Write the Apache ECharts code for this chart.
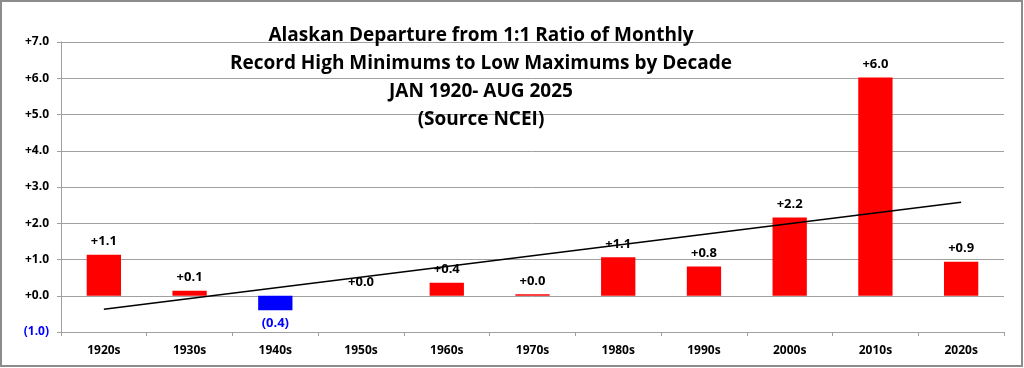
<!DOCTYPE html>
<html>
<head>
<meta charset="utf-8">
<script src="https://cdn.jsdelivr.net/npm/echarts@6/dist/echarts.min.js"></script>
<style>
html,body{margin:0;padding:0;background:#fff;}
#c{width:1024px;height:368px;}
</style>
</head>
<body>
<div id="c"></div>
<script>
var categories = ['1920s','1930s','1940s','1950s','1960s','1970s','1980s','1990s','2000s','2010s','2020s'];
var departures = [1.13, 0.14, -0.40, 0.0, 0.36, 0.04, 1.06, 0.81, 2.16, 6.02, 0.94];
var trendValues = [-0.37, null, null, null, null, null, null, null, null, null, 2.58];
var titleLines = ['Alaskan Departure from 1:1 Ratio of Monthly', 'Record High Minimums to Low Maximums by Decade', 'JAN 1920- AUG 2025', '(Source NCEI)'];
var yMin = -1, yMax = 7, yStep = 1;

function fmt(v){
  if (v < 0) return '(' + Math.abs(v).toFixed(1) + ')';
  return '+' + v.toFixed(1);
}

var FONT = 'Open Sans';
var chart = echarts.init(document.getElementById('c'), null, {renderer:'canvas'});

var barData = departures.map(function(v){
  var neg = v < 0;
  return {
    value: v,
    itemStyle: {color: neg ? '#0000ff' : '#ff0000'},
    label: {position: neg ? 'bottom' : 'top', color: neg ? '#0000ff' : '#000'}
  };
});

chart.setOption({
  animation: false,
  textStyle: {fontFamily: FONT},
  graphic: [{
    type: 'rect',
    shape: {x: 1, y: 1, width: 1021, height: 365},
    style: {fill: 'none', stroke: '#8c8c8c', lineWidth: 2},
    z: 100
  }],
  title: {
    text: titleLines.join('\n'),
    left: 476, top: 17,
    textAlign: 'center',
    textStyle: {fontFamily: FONT, fontSize: 19, fontWeight: 'bold', color: '#000', lineHeight: 28}
  },
  grid: {left: 61, right: 20, top: 42, bottom: 36, containLabel: false},
  xAxis: [{
    type: 'category',
    data: categories,
    position: 'bottom',
    axisLine: {show: false},
    axisTick: {show: false},
    axisLabel: {fontFamily: FONT, fontSize: 12, fontWeight: 'bold', color: '#000', margin: 13}
  },{
    type: 'category',
    data: categories,
    position: 'bottom',
    axisLine: {show: true, onZero: true, lineStyle: {color: '#a0a0a0', width: 1}},
    axisTick: {show: true, length: 4, inside: false, lineStyle: {color: '#a0a0a0'}},
    axisLabel: {show: false},
    splitLine: {show: false}
  }],
  yAxis: {
    type: 'value',
    min: yMin, max: yMax, interval: yStep,
    axisLine: {show: true, lineStyle: {color: '#a0a0a0', width: 1}},
    axisTick: {show: true, length: 4, lineStyle: {color: '#a0a0a0'}},
    splitLine: {show: true, lineStyle: {color: '#a0a0a0', width: 1}},
    axisLabel: {
      fontFamily: FONT, fontSize: 12, fontWeight: 'bold', margin: 12,
      formatter: function(v){ return v < 0 ? '{neg|' + fmt(v) + '}' : fmt(v); },
      color: '#000',
      rich: {neg: {color: '#0000ff', fontFamily: FONT, fontSize: 12, fontWeight: 'bold'}}
    }
  },
  series: [{
    type: 'bar',
    xAxisIndex: 0,
    data: barData,
    barWidth: '40%',
    label: {
      show: true,
      fontFamily: FONT, fontSize: 13, fontWeight: 'bold',
      distance: 7,
      formatter: function(p){ return fmt(p.value); }
    }
  },{
    type: 'line',
    xAxisIndex: 0,
    data: trendValues,
    connectNulls: true,
    symbol: 'none',
    lineStyle: {color: '#000', width: 1.5},
    z: 5
  }]
});
</script>
</body>
</html>
